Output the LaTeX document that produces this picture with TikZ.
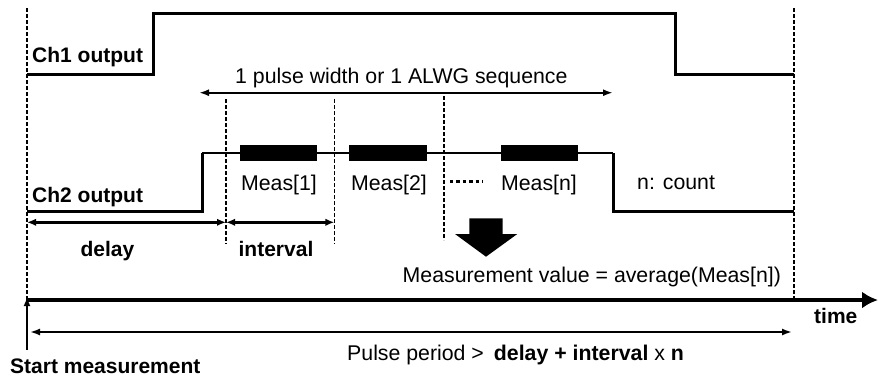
\documentclass[tikz,border=0pt]{standalone}
\usepackage{fontspec}
\setmainfont{Liberation Sans}
\usetikzlibrary{arrows.meta}
\tikzset{
  sig/.style={line width=3pt, line join=miter},
  sigtop/.style={line width=2pt},
  vdash/.style={line width=1.3pt, dash pattern=on 4pt off 2pt},
  dim/.style={line width=2.8pt, {Latex[length=9pt,width=7.5pt]}-{Latex[length=9pt,width=7.5pt]}},
  span/.style={line width=1.8pt, {Latex[length=10pt,width=7pt]}-{Latex[length=10pt,width=7pt]}},
  txt/.style={inner sep=0pt, font=\fontsize{21.3}{25}\selectfont},
  btxt/.style={inner sep=0pt, font=\fontsize{21}{25}\selectfont\bfseries},
  measbox/.style={fill=black, draw=none},
}
\begin{document}
\begin{tikzpicture}[x=1pt,y=-1pt]
\useasboundingbox (0,0) rectangle (878,376);
% key coordinates
\coordinate (L0) at (27,8);
\coordinate (L1) at (27,300);
\coordinate (R0) at (794,8);
\coordinate (R1) at (794,300);
% dashed verticals
\draw[vdash] (L0) -- (L1);
\draw[vdash] (R0) -- (R1);
\coordinate (D1t) at (226,99); \coordinate (D1b) at (226,244);
\coordinate (D2t) at (334.3,99); \coordinate (D2b) at (334.3,244);
\coordinate (D3t) at (444,96); \coordinate (D3b) at (444,240);
\draw[vdash] (D1t) -- (D1b);
\draw[vdash] (D2t) -- (D2b);
\draw[vdash] (D3t) -- (D3b);
% Ch1 output waveform
\draw[sig] (27,74) -- (153,74) -- (153,13.3) -- (675,13.3) -- (675,74) -- (794,74);
\node[btxt, anchor=base west] (ch1) at (32,62) {Ch1 output};
% pulse width arrow
\coordinate (PWa) at (199,92.7);
\coordinate (PWb) at (613,92.7);
\draw[span, line width=2pt] (PWa) -- (PWb);
\node[txt, anchor=base west] (pw) at (235,83) {1 pulse width or 1 ALWG sequence};
% Ch2 output waveform
\draw[sig] (27,211.7) -- (202,211.7) -- (202,153.3);
\draw[sigtop] (202,153.3) -- (613,153.3);
\draw[sig] (613,153.3) -- (613,211.7) -- (794,211.7);
\node[btxt, anchor=base west] (ch2) at (32,202) {Ch2 output};
% measurement boxes
\fill[measbox] (240,144.5) rectangle (316.7,161);
\fill[measbox] (349,144.5) rectangle (426.7,161);
\fill[measbox] (500.7,144.5) rectangle (577.7,161);
\node[txt, anchor=base] (m1) at (279,190) {Meas[1]};
\node[txt, anchor=base] (m2) at (389,190) {Meas[2]};
\node[txt, anchor=base] (mn) at (539,190) {Meas[n]};
\coordinate (E0) at (450,181);
\coordinate (E1) at (483,181);
\draw[line width=3pt, dash pattern=on 3.4pt off 3pt] (E0) -- (E1);
\node[txt, anchor=base west] (cnt) at (637,189) {n: count};
% delay / interval arrows
\coordinate (Ya) at (27,222.3);
\coordinate (Yb) at (226,222.3);
\coordinate (Yc) at (334.3,222.3);
\draw[dim] (Ya) -- (Yb);
\draw[dim] (Yb) -- (Yc);
\node[btxt, anchor=base] (dl) at (107.5,256) {delay};
\node[btxt, anchor=base] (iv) at (276,256) {interval};
% big down arrow
\fill (469.3,218.3) -- (502.7,218.3) -- (502.7,234) -- (517.3,234) -- (486,256.7) -- (455,234) -- (469.3,234) -- cycle;
\node[txt, anchor=base west] (mv) at (402.5,282) {Measurement value = average(Meas[n])};
% time axis
\coordinate (T1) at (878,300);
\draw[line width=4pt, -{Latex[length=16pt,width=17pt]}] (L1) -- (T1);
\node[btxt, anchor=base west] (tm) at (814,323) {time};
% start measurement
\coordinate (S0) at (27,350);
\draw[line width=2.5pt, -{Latex[length=9pt,width=7pt]}] (S0) -- (27,297);
\node[btxt, anchor=base west] (sm) at (10,373) {Start measurement};
% pulse period
\coordinate (Pa) at (30,332);
\coordinate (Pb) at (792,332);
\draw[span] (Pa) -- (Pb);
\node[txt, anchor=base west] (pp) at (347,360) {Pulse period >\hspace{10pt}\textbf{delay + interval} x \textbf{n}};
\end{tikzpicture}
\end{document}
